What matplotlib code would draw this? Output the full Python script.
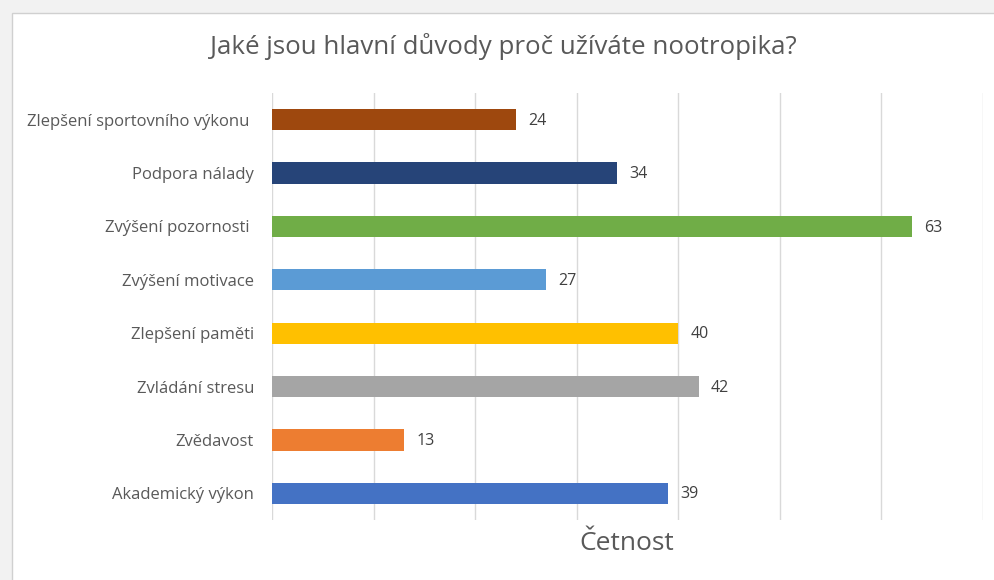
import matplotlib
matplotlib.use("Agg")
import matplotlib.pyplot as plt
from matplotlib.patches import Rectangle

categories = ["Zlepšení sportovního výkonu ", "Podpora nálady", "Zvýšení pozornosti ",
              "Zvýšení motivace", "Zlepšení paměti", "Zvládání stresu",
              "Zvědavost", "Akademický výkon"]
values = [24, 34, 63, 27, 40, 42, 13, 39]
colors = ["#9E480E", "#264478", "#70AD47", "#5B9BD5", "#FFC000", "#A5A5A5",
          "#ED7D31", "#4472C4"]
title = "Jaké jsou hlavní důvody proč užíváte nootropika?"
xlabel = "Četnost"

plt.rcParams['font.family'] = ['Open Sans', 'DejaVu Sans']
W, H = 994, 580
fig = plt.figure(figsize=(W / 100, H / 100), dpi=100)
fig.patch.set_facecolor("#f2f2f2")
bg = Rectangle((12 / W, -0.01), 1, 1.01 - 13 / H, transform=fig.transFigure,
               facecolor="white", edgecolor="#d0d0d0", linewidth=1, zorder=-10)
fig.add_artist(bg)

ax = fig.add_axes([272 / W, 1 - 520 / H, (983 - 272) / W, (520 - 93) / H])
ax.set_zorder(5)
ax.set_facecolor("none")
txt = "#595959"
y = list(range(len(categories)))
ax.barh(y, values, height=0.4, color=colors, zorder=3)
for yi, v in zip(y, values):
    ax.text(v + 1.2, yi + 0.02, str(v), va="center", ha="left", fontsize=11.5, color="#404040")
ax.set_ylim(len(categories) - 0.5, -0.5)
ax.set_xlim(0, 70)
ax.set_xticks(range(0, 71, 10))
ax.set_xticklabels([])
ax.tick_params(axis="x", length=0)
ax.tick_params(axis="y", length=0, pad=13, labelsize=12, labelcolor=txt)
ax.set_yticks(y)
ax.set_yticklabels(categories)
ax.grid(axis="x", color="#d9d9d9", linewidth=1, zorder=0)
for s in ax.spines.values():
    s.set_visible(False)

fig.text(503 / W, 1 - 47 / H, title, ha="center", va="center", fontsize=18.6, color=txt, zorder=6)
fig.text(627 / W, 1 - 543 / H, xlabel, ha="center", va="center", fontsize=19, color=txt, zorder=6)

fig.savefig("out.png", dpi=100, facecolor=fig.get_facecolor())
